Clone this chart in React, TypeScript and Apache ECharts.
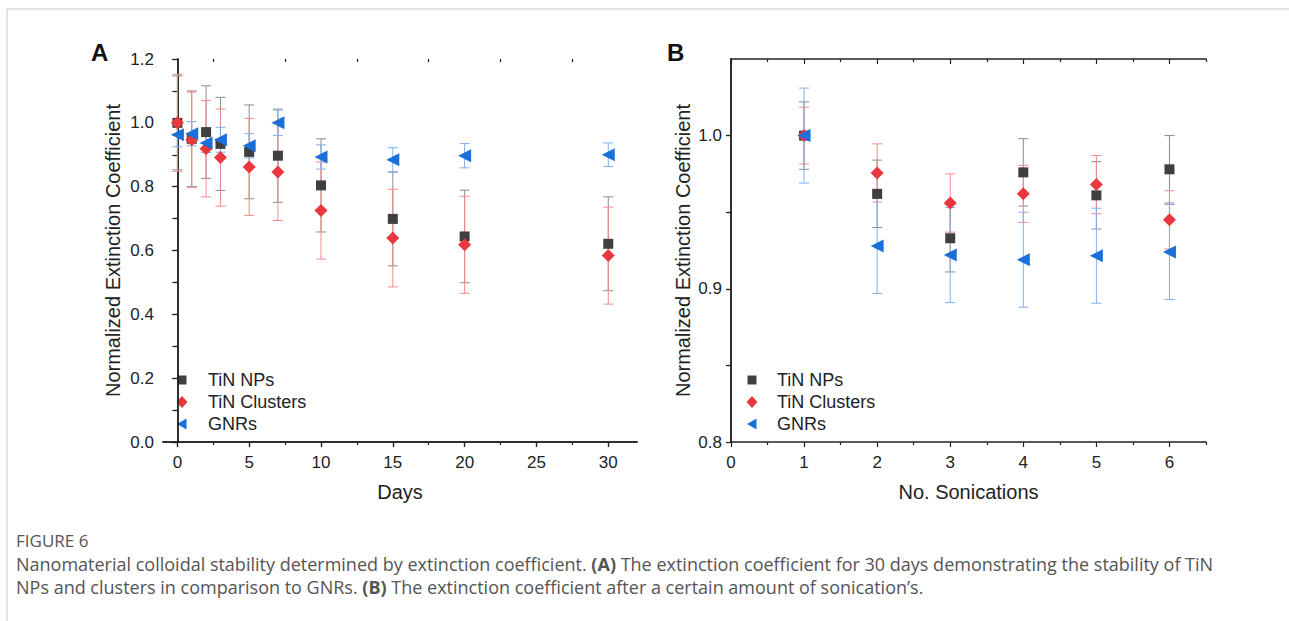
import React, { useEffect, useRef } from "react";
import * as echarts from "echarts";

// Panel A: days
const daysA = [0, 1, 2, 3, 5, 7, 10, 15, 20, 30];
const npsA = [1.0, 0.95, 0.971, 0.934, 0.909, 0.897, 0.804, 0.699, 0.644, 0.621];
const npsErrA = [0.147, 0.15, 0.145, 0.146, 0.147, 0.146, 0.146, 0.147, 0.145, 0.147];
const clustersA = [1.0, 0.947, 0.919, 0.891, 0.862, 0.846, 0.725, 0.639, 0.618, 0.584];
const clustersErrA = [0.152, 0.149, 0.151, 0.152, 0.152, 0.152, 0.152, 0.153, 0.152, 0.152];
const gnrsA = [0.963, 0.966, 0.937, 0.947, 0.928, 1.0, 0.893, 0.884, 0.897, 0.9];
const gnrsErrA = [0.038, 0.038, 0.03, 0.039, 0.038, 0.04, 0.038, 0.038, 0.038, 0.037];

// Panel B: sonications
const sonB = [1, 2, 3, 4, 5, 6];
const npsB = [1.0, 0.962, 0.933, 0.976, 0.961, 0.978];
const npsErrB = [0.022, 0.022, 0.022, 0.022, 0.022, 0.022];
const clustersB = [1.0, 0.9756, 0.956, 0.962, 0.968, 0.945];
const clustersErrB = [0.0185, 0.019, 0.019, 0.0186, 0.019, 0.019];
const gnrsB = [1.0, 0.928, 0.922, 0.919, 0.9216, 0.924];
const gnrsErrB = [0.031, 0.031, 0.031, 0.031, 0.031, 0.031];

// Tick labels
const xTicksA = [0, 5, 10, 15, 20, 25, 30];
const xMinorA = [2.5, 7.5, 12.5, 17.5, 22.5, 27.5];
const yTicksA = [0, 0.2, 0.4, 0.6, 0.8, 1.0, 1.2];
const yMinorA = [0.1, 0.3, 0.5, 0.7, 0.9, 1.1];
const xTicksB = [0, 1, 2, 3, 4, 5, 6];
const xMinorB = [0.5, 1.5, 2.5, 3.5, 4.5, 5.5, 6.5];
const yTicksB = [0.8, 0.9, 1.0];
const yMinorB = [0.85, 0.95];

const names = ["TiN NPs", "TiN Clusters", "GNRs"];
const markerColors = ["#3f3f3f", "#e8383d", "#1a6fd8"];
const errColors = ["#8c8c8c", "#f08a8a", "#7db0ec"];
const symbols = ["rect", "diamond", "triangle"];
const symbolSizes = [10, 13, 13];
const symbolRotates = [0, 0, 90];

const FONT = "'Liberation Sans', Arial, sans-serif";
const CAPFONT = "'Open Sans', sans-serif";

function legendGraphics(cx: number, tx: number, y0: number, gap: number) {
  const out: any[] = [];
  names.forEach((n, i) => {
    const cy = y0 + i * gap;
    const fill = markerColors[i];
    if (i === 0) {
      out.push({ type: "rect", shape: { x: cx - 4.5, y: cy - 4.5, width: 9, height: 9 }, style: { fill } });
    } else if (i === 1) {
      out.push({ type: "polygon", shape: { points: [[cx, cy - 6], [cx + 5.5, cy], [cx, cy + 6], [cx - 5.5, cy]] }, style: { fill } });
    } else {
      out.push({ type: "polygon", shape: { points: [[cx - 5, cy], [cx + 4.5, cy - 5.5], [cx + 4.5, cy + 5.5]] }, style: { fill } });
    }
    out.push({ type: "text", x: tx, y: cy, style: { text: n, font: `18px ${FONT}`, fill: "#222", verticalAlign: "middle" } });
  });
  return out;
}

function App() {
  const ref = useRef<HTMLDivElement>(null);
  useEffect(() => {
    if (!ref.current) return;
    const chart = echarts.init(ref.current, null, { renderer: "svg" });

    const grids = [
      { left: 163, top: 59, width: 474, height: 383 },
      { left: 731, top: 59, width: 475, height: 383 },
    ];

    const axisLine = { show: true, lineStyle: { color: "#222", width: 1.5 } };
    const labelStyle = { color: "#222", fontSize: 17, fontFamily: FONT };
    const nameStyle = { color: "#222", fontSize: 20, fontFamily: FONT };

    const xAxes: any[] = [];
    const yAxes: any[] = [];
    const cfg = [
      { xmin: -1, xmax: 32, xt: xTicksA, xm: xMinorA, ymin: 0, ymax: 1.2, yt: yTicksA, ym: yMinorA, yRight: [...yMinorA, ...yTicksA], xname: "Days", ynameGap: 40 },
      { xmin: 0, xmax: 6.5, xt: xTicksB, xm: xMinorB, ymin: 0.8, ymax: 1.05, yt: yTicksB, ym: yMinorB, yRight: [0.85, 0.9, 0.95, 1.0], xname: "No. Sonications", ynameGap: 38 },
    ];

    const tickLine = { color: "#222", width: 1.2 };
    cfg.forEach((c, g) => {
      const base = { type: "value", gridIndex: g, min: c.xmin, max: c.xmax, splitLine: { show: false } };
      xAxes.push({
        ...base, position: "bottom", axisLine,
        axisTick: { show: true, inside: false, length: 5, customValues: c.xt, lineStyle: tickLine },
        axisLabel: { show: true, customValues: c.xt, margin: 12, ...labelStyle },
        name: c.xname, nameLocation: "middle", nameGap: 40, nameTextStyle: nameStyle,
      });
      xAxes.push({
        ...base, position: "bottom", axisLine: { show: false },
        axisTick: { show: true, inside: false, length: 3, customValues: c.xm, lineStyle: tickLine },
        axisLabel: { show: false },
      });
      xAxes.push({
        ...base, position: "top", axisLine,
        axisTick: { show: true, inside: true, length: 5, customValues: c.xt, lineStyle: tickLine },
        axisLabel: { show: false },
      });
      xAxes.push({
        ...base, position: "top", axisLine: { show: false },
        axisTick: { show: true, inside: true, length: 3, customValues: c.xm, lineStyle: tickLine },
        axisLabel: { show: false },
      });
      const ybase = { type: "value", gridIndex: g, min: c.ymin, max: c.ymax, splitLine: { show: false } };
      yAxes.push({
        ...ybase, position: "left", axisLine,
        axisTick: { show: true, inside: false, length: 5, customValues: c.yt, lineStyle: tickLine },
        axisLabel: { show: true, customValues: c.yt, margin: 9, formatter: (v: number) => v.toFixed(1), ...labelStyle },
        name: "Normalized Extinction Coefficient", nameLocation: "middle", nameGap: c.ynameGap, nameTextStyle: nameStyle,
      });
      yAxes.push({
        ...ybase, position: "left", axisLine: { show: false },
        axisTick: { show: true, inside: false, length: 3, customValues: c.ym, lineStyle: tickLine },
        axisLabel: { show: false },
      });
      yAxes.push({
        ...ybase, position: "right", axisLine,
        axisTick: { show: true, inside: true, length: 5, customValues: c.yRight, lineStyle: tickLine },
        axisLabel: { show: false },
      });
    });

    const panels = [
      { x: daysA, vals: [npsA, clustersA, gnrsA], errs: [npsErrA, clustersErrA, gnrsErrA] },
      { x: sonB, vals: [npsB, clustersB, gnrsB], errs: [npsErrB, clustersErrB, gnrsErrB] },
    ];

    const series: any[] = [];
    panels.forEach((p, g) => {
      p.vals.forEach((vals, s) => {
        const errData = p.x.map((xv, i) => [xv, vals[i] - p.errs[s][i], vals[i] + p.errs[s][i]]);
        const col = errColors[s];
        series.push({
          type: "custom",
          name: names[s] + " error",
          xAxisIndex: g * 4,
          yAxisIndex: g * 3,
          data: errData,
          encode: { x: 0, y: [1, 2] },
          z: 2,
          silent: true,
          renderItem: (params: any, api: any) => {
            const xv = api.value(0);
            const hi = api.coord([xv, api.value(2)]);
            const lo = api.coord([xv, api.value(1)]);
            const w = 5;
            const style = { stroke: col, lineWidth: 1 };
            return {
              type: "group",
              children: [
                { type: "line", shape: { x1: hi[0], y1: hi[1], x2: lo[0], y2: lo[1] }, style },
                { type: "line", shape: { x1: hi[0] - w, y1: hi[1], x2: hi[0] + w, y2: hi[1] }, style },
                { type: "line", shape: { x1: lo[0] - w, y1: lo[1], x2: lo[0] + w, y2: lo[1] }, style },
              ],
            };
          },
        });
      });
      p.vals.forEach((vals, s) => {
        series.push({
          type: "scatter",
          name: names[s],
          xAxisIndex: g * 4,
          yAxisIndex: g * 3,
          data: p.x.map((xv, i) => [xv, vals[i]]),
          symbol: symbols[s],
          symbolSize: symbolSizes[s],
          symbolRotate: symbolRotates[s],
          itemStyle: { color: markerColors[s], opacity: 1 },
          z: 3 + s,
        });
      });
    });

    const captionRich = {
      b: { fontWeight: "bold", fontSize: 18, fontFamily: CAPFONT, fill: "#555" },
    };

    chart.setOption({
      animation: false,
      backgroundColor: "#fff",
      grid: grids,
      xAxis: xAxes,
      yAxis: yAxes,
      series,
      graphic: [
        { type: "line", shape: { x1: 7, y1: 9, x2: 1289, y2: 9 }, style: { stroke: "#c8c8c8", lineWidth: 1 } },
        { type: "line", shape: { x1: 7, y1: 9, x2: 7, y2: 621 }, style: { stroke: "#c8c8c8", lineWidth: 1 } },
        { type: "text", x: 91, y: 40, style: { text: "A", font: `bold 24px ${FONT}`, fill: "#111" } },
        { type: "text", x: 667, y: 40, style: { text: "B", font: `bold 24px ${FONT}`, fill: "#111" } },
        ...legendGraphics(182, 208, 380, 22),
        ...legendGraphics(752, 777, 380, 22),
        { type: "text", x: 16, y: 540, style: { text: "FIGURE 6", font: `17px ${CAPFONT}`, fill: "#555", verticalAlign: "middle" } },
        {
          type: "text", x: 16, y: 564,
          style: {
            text: "Nanomaterial colloidal stability determined by extinction coefficient. {b|(A)} The extinction coefficient for 30 days demonstrating the stability of TiN",
            font: `18px ${CAPFONT}`, fill: "#555", rich: captionRich, verticalAlign: "middle",
          },
        },
        {
          type: "text", x: 16, y: 587,
          style: {
            text: "NPs and clusters in comparison to GNRs. {b|(B)} The extinction coefficient after a certain amount of sonication’s.",
            font: `18px ${CAPFONT}`, fill: "#555", rich: captionRich, verticalAlign: "middle",
          },
        },
      ],
    });
    return () => chart.dispose();
  }, []);
  return <div ref={ref} style={{ position: "absolute", left: 0, top: 0, width: 1289, height: 621 }} />;
}

export default App;
